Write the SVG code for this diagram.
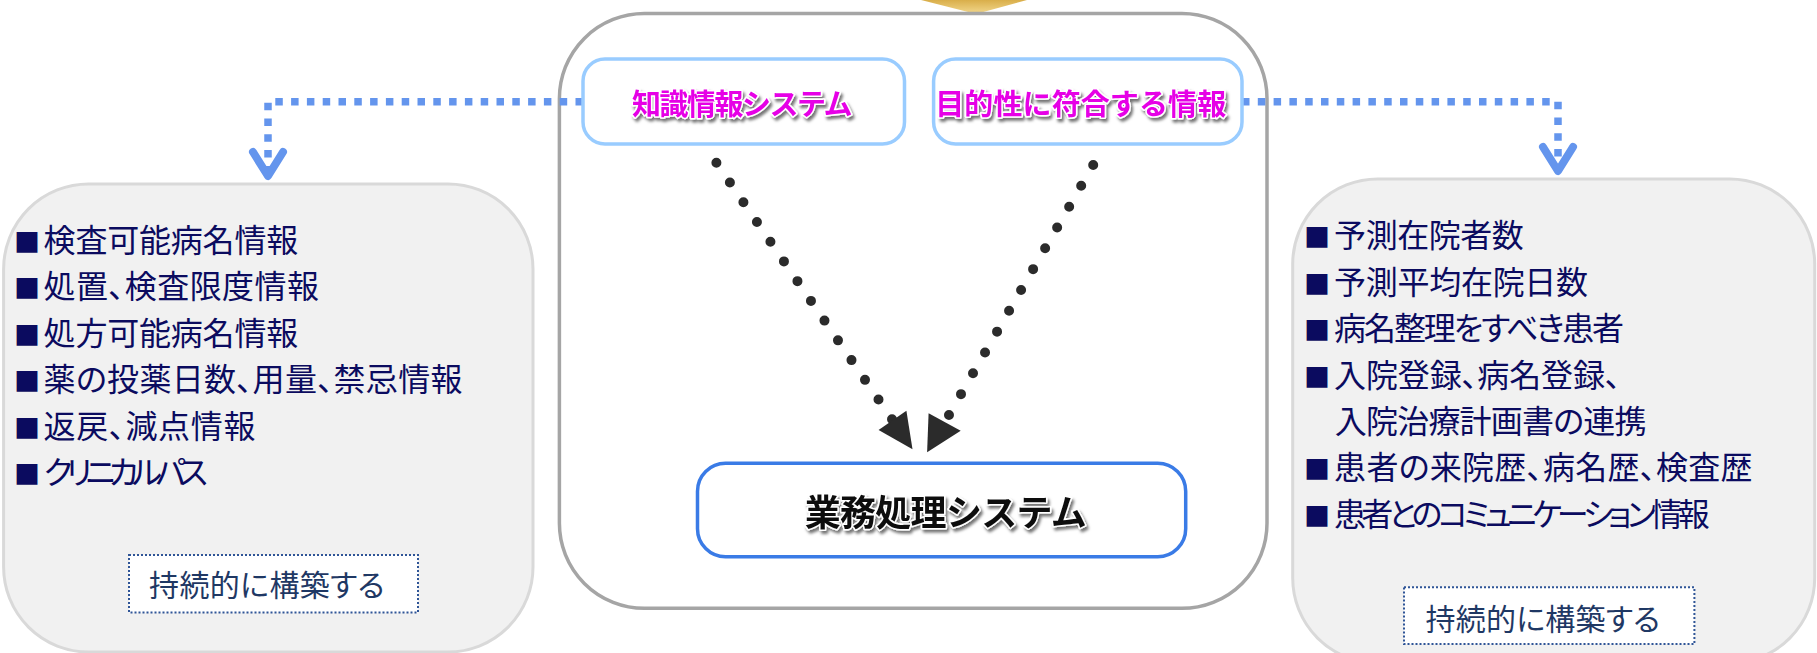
<svg xmlns="http://www.w3.org/2000/svg" width="1817" height="653" viewBox="0 0 1817 653">
<defs>
<style>
.jp{font-family:"Noto Sans CJK JP","Noto Sans",sans-serif;}
.item{font-size:32px;fill:#0B0B5F;font-feature-settings:"palt";}
.bul{font-size:26px;font-feature-settings:normal;}
.sub{font-size:30px;fill:#1F3864;font-feature-settings:"palt";}
.subbox{fill:#ffffff;stroke:#2F5597;stroke-width:2;stroke-dasharray:2 2;}
.panel{fill:#F1F1F1;stroke:#D9D9D9;stroke-width:3;}
.kbox{fill:#ffffff;stroke:#99CCFF;stroke-width:3.5;}
.mag{font-size:29px;font-weight:bold;fill:#E600E6;stroke:#ffffff;stroke-width:3;paint-order:stroke;stroke-linejoin:round;}
.main{font-size:36px;font-weight:bold;fill:#111111;stroke:#ffffff;stroke-width:3;paint-order:stroke;stroke-linejoin:round;}
.blue{fill:none;stroke:#6495ED;stroke-width:7.5;stroke-dasharray:7.5 8.3;}
.dots{fill:none;stroke:#2B2B2B;stroke-width:10;stroke-linecap:round;}
</style>
<linearGradient id="gold" x1="0" y1="0" x2="0" y2="1">
<stop offset="0" stop-color="#D9AE4A"/>
<stop offset="1" stop-color="#F3D98F"/>
</linearGradient>
<filter id="shadow" x="-10%" y="-30%" width="130%" height="170%">
<feDropShadow dx="2" dy="3" stdDeviation="1.5" flood-color="#000000" flood-opacity="0.55"/>
</filter>
<marker id="vhead" markerUnits="userSpaceOnUse" viewBox="-32 -22 40 44" markerWidth="40" markerHeight="44" refX="0" refY="0" orient="auto" overflow="visible">
<path d="M -24 -15 L 0 0 L -24 15" fill="none" stroke="#6495ED" stroke-width="8" stroke-linecap="round" stroke-linejoin="round"/>
</marker>
</defs>
<rect width="1817" height="653" fill="#ffffff"/>

<g id="left-panel">
<rect class="panel" x="3.6" y="184" width="529.4" height="468" rx="85" ry="85"/>
<text class="jp item" y="252"><tspan class="bul" x="14">■</tspan><tspan x="43.6" textLength="254.6">検査可能病名情報</tspan></text>
<text class="jp item" y="298"><tspan class="bul" x="14">■</tspan><tspan x="43.6" textLength="275.3">処置、検査限度情報</tspan></text>
<text class="jp item" y="344.7"><tspan class="bul" x="14">■</tspan><tspan x="43.6" textLength="254.6">処方可能病名情報</tspan></text>
<text class="jp item" y="391"><tspan class="bul" x="14">■</tspan><tspan x="43.6" textLength="418.9">薬の投薬日数、用量、禁忌情報</tspan></text>
<text class="jp item" y="437.7"><tspan class="bul" x="14">■</tspan><tspan x="43.6" textLength="211.8">返戻、減点情報</tspan></text>
<text class="jp item" y="483.7"><tspan class="bul" x="14">■</tspan><tspan x="43.6" textLength="164.3">クリニカルパス</tspan></text>
<rect class="subbox" x="129" y="555" width="289" height="57.5"/>
<text class="jp sub" x="149" y="596.4" textLength="235.6">持続的に構築する</text>
</g>

<g id="right-panel">
<rect class="panel" x="1292.7" y="179" width="522" height="484" rx="85" ry="85"/>
<text class="jp item" y="247"><tspan class="bul" x="1304">■</tspan><tspan x="1334.1" textLength="189.7">予測在院者数</tspan></text>
<text class="jp item" y="293.7"><tspan class="bul" x="1304">■</tspan><tspan x="1334.1" textLength="254">予測平均在院日数</tspan></text>
<text class="jp item" y="340.3"><tspan class="bul" x="1304">■</tspan><tspan x="1334.1" textLength="290">病名整理をすべき患者</tspan></text>
<text class="jp item" y="387"><tspan class="bul" x="1304">■</tspan><tspan x="1334.1" textLength="286.7">入院登録、病名登録、</tspan></text>
<text class="jp item" x="1334.8" y="433" textLength="311.6">入院治療計画書の連携</text>
<text class="jp item" y="479.3"><tspan class="bul" x="1304">■</tspan><tspan x="1334.1" textLength="418.5">患者の来院歴、病名歴、検査歴</tspan></text>
<text class="jp item" y="526"><tspan class="bul" x="1304">■</tspan><tspan x="1334.1" textLength="375.7">患者とのコミュニケーション情報</tspan></text>
<rect class="subbox" x="1404" y="587.3" width="290.4" height="56.7"/>
<text class="jp sub" x="1425.5" y="630.4" textLength="234.6">持続的に構築する</text>
</g>

<g id="top-arrow">
<polygon points="921,0 1027,0 976,14" fill="url(#gold)"/>
</g>

<g id="outer-frame">
<rect x="559.4" y="13.5" width="707.6" height="594.8" rx="85" ry="85" fill="#ffffff" stroke="#A5A5A5" stroke-width="3.5"/>
</g>

<g id="connectors">
<path class="blue" d="M 583 101.7 H 268 V 176" marker-end="url(#vhead)"/>
<path class="blue" d="M 1242 101.7 H 1558 V 171" marker-end="url(#vhead)"/>
<line class="dots" x1="716.4" y1="162.7" x2="892.2" y2="419.6" stroke-dasharray="0 23.92"/>
<polygon points="878.6,430 906.4,410.7 912.5,449.3" fill="#2B2B2B"/>
<line class="dots" x1="1093.2" y1="165" x2="948.8" y2="415.3" stroke-dasharray="0 24.05"/>
<polygon points="928.6,413.3 960.7,430.7 927.1,452.3" fill="#2B2B2B"/>
</g>

<g id="knowledge-system">
<rect class="kbox" x="583" y="59" width="321.5" height="85" rx="22" ry="22"/>
<text class="jp mag" x="742.3" y="115" text-anchor="middle" textLength="220.6" filter="url(#shadow)">知識情報システム</text>
</g>

<g id="purpose-info">
<rect class="kbox" x="933.6" y="59" width="308.4" height="85" rx="22" ry="22"/>
<text class="jp mag" x="1080.7" y="115" text-anchor="middle" textLength="291" filter="url(#shadow)">目的性に符合する情報</text>
</g>

<g id="business-system">
<rect x="697.5" y="463.3" width="488.2" height="93.4" rx="28" ry="28" fill="#ffffff" stroke="#3A7BE6" stroke-width="3.5"/>
<text class="jp main" x="945.7" y="526" text-anchor="middle" textLength="282" filter="url(#shadow)">業務処理システム</text>
</g>
</svg>
